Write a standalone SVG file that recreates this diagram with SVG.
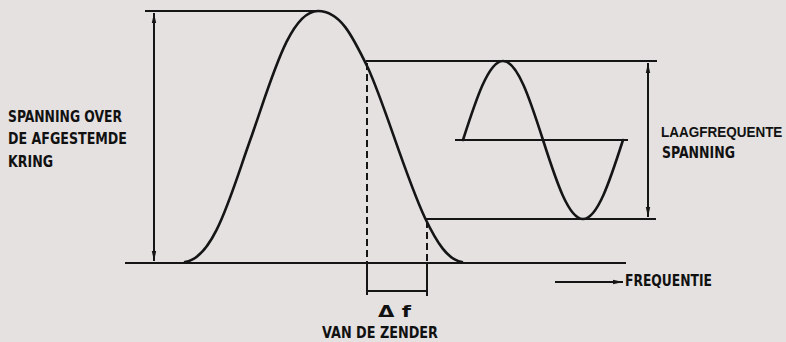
<svg xmlns="http://www.w3.org/2000/svg" width="786" height="342" viewBox="0 0 786 342">
<style>
.ln{stroke:#151515;stroke-width:2;fill:none}
.cv{stroke:#151515;stroke-width:2.6;fill:none;stroke-linecap:round}
.ds{stroke:#151515;stroke-width:2;fill:none;stroke-dasharray:7,4}
.t{font-family:"DejaVu Sans Condensed","DejaVu Sans","Liberation Sans",sans-serif;font-weight:bold;font-size:16px;fill:#111}
.tn{font-family:"Liberation Sans",Arial,sans-serif;font-weight:bold;font-size:13.5px;fill:#111}
</style>
<defs>
<marker id="ah" viewBox="0 0 10 6" refX="10" refY="3" markerWidth="10" markerHeight="6" markerUnits="userSpaceOnUse" orient="auto-start-reverse">
<path d="M0,0.8 L10,3 L0,5.2 Z" fill="#151515"/>
</marker>
</defs>
<rect width="786" height="342" fill="#e5e1e1"/>
<g id="axes">
<line class="ln" x1="145" y1="11" x2="318" y2="11"/>
<line class="ln" x1="125" y1="263" x2="626" y2="263"/>
<line class="ln" x1="366" y1="61" x2="657" y2="61"/>
<line class="ln" x1="426" y1="219" x2="656" y2="219"/>
<line class="ln" x1="455" y1="140" x2="628" y2="140"/>
</g>
<g id="connectors">
<line class="ln" x1="154" y1="13" x2="154" y2="261" marker-start="url(#ah)" marker-end="url(#ah)"/>
<line class="ln" x1="648" y1="63" x2="648" y2="217" marker-start="url(#ah)" marker-end="url(#ah)"/>
<line class="ln" x1="555" y1="282" x2="623" y2="282" marker-end="url(#ah)"/>
<line class="ds" x1="367" y1="63" x2="367" y2="263"/>
<line class="ds" x1="427" y1="221" x2="427" y2="263"/>
<line class="ln" x1="367" y1="263" x2="367" y2="295"/>
<line class="ln" x1="427" y1="263" x2="427" y2="296"/>
<line class="ln" x1="367" y1="291" x2="427" y2="291"/>
</g>
<g id="resonance-curve">
<path class="cv" d="M185,262 C215,258 232,190 252,135 C272,78 290,11 318,11 C340,11 352,35 368,68 C385,105 405,175 425,218 C437,243 448,260 462,262"/>
</g>
<g id="lf-wave">
<path class="cv" d="M463,140 C476,99.5 488.5,61 503,61 C517.5,61 530,99.5 543,140 C556,180.5 568.5,219 583,219 C597.5,219 610,180.5 623,140"/>
</g>
<g id="label-left">
<text class="t" x="8" y="122" textLength="114" lengthAdjust="spacingAndGlyphs">SPANNING OVER</text>
<text class="t" x="8" y="144" textLength="119" lengthAdjust="spacingAndGlyphs">DE AFGESTEMDE</text>
<text class="t" x="8" y="167" textLength="45" lengthAdjust="spacingAndGlyphs">KRING</text>
</g>
<g id="label-right">
<text class="tn" x="661" y="119.13" transform="matrix(1,0,0,1.15,0,0)">LAAGFREQUENTE</text>
<text class="t" x="662" y="158" textLength="73" lengthAdjust="spacingAndGlyphs">SPANNING</text>
</g>
<g id="label-freq">
<text class="t" x="625" y="286" textLength="87" lengthAdjust="spacingAndGlyphs">FREQUENTIE</text>
</g>
<g id="label-df">
<text class="t" x="378" y="317" textLength="33" lengthAdjust="spacingAndGlyphs">Δ f</text>
<text class="t" x="322" y="338" textLength="116" lengthAdjust="spacingAndGlyphs">VAN DE ZENDER</text>
</g>
</svg>
